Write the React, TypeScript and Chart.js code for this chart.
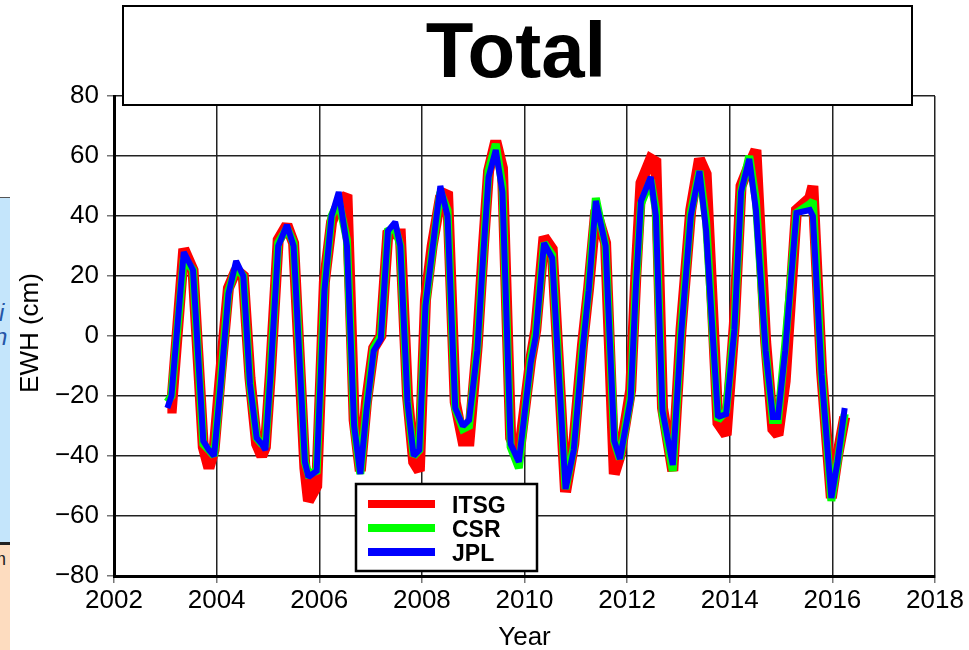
import React, { useEffect, useRef } from "react";
import { Chart, registerables } from "chart.js";

Chart.register(...registerables);

const years = [
  2003.04, 2003.12, 2003.36, 2003.54, 2003.74, 2003.85, 2003.95,
  2004.08, 2004.23, 2004.38, 2004.52, 2004.65, 2004.78, 2004.88, 2004.95,
  2005.05, 2005.2, 2005.37, 2005.5, 2005.72, 2005.79, 2005.95,
  2006.1, 2006.24, 2006.38, 2006.54, 2006.68, 2006.8, 2006.92,
  2007.06, 2007.2, 2007.34, 2007.48, 2007.58, 2007.72, 2007.84, 2007.95,
  2008.07, 2008.2, 2008.36, 2008.5, 2008.65, 2008.8, 2008.92,
  2009.08, 2009.2, 2009.3, 2009.44, 2009.57, 2009.73, 2009.89,
  2010.12, 2010.22, 2010.38, 2010.54, 2010.8, 2010.96,
  2011.13, 2011.25, 2011.39, 2011.58, 2011.75, 2011.86,
  2012.07, 2012.17, 2012.27, 2012.46, 2012.56, 2012.69, 2012.89,
  2013.05, 2013.24, 2013.41, 2013.54, 2013.77, 2013.93,
  2014.09, 2014.22, 2014.38, 2014.51, 2014.7, 2014.84, 2014.94,
  2015.08, 2015.3, 2015.56, 2015.62, 2015.79, 2015.98, 2016.1, 2016.24,
];

const itsgValues = [
  -24, -24, 29, 22, -37, -44, -38,
  -12, 16, 22, 20, -14, -36, -40, -37,
  -12, 32, 37, 31, -44, -55, -50,
  18, 38, 44, 47, -28, -45, -22,
  -4, 0, 35, 34, 34, -20, -42, -45,
  12, 30, 46, 48, -22, -35, -35,
  -3, 30, 55, 65, 56, -34, -40,
  -8, 2, 33, 29, -52, -36,
  -3, 16, 42, 31, -46, -40,
  -18, 20, 51, 59, 58, -24, -45,
  2, 42, 59, 54, -29, -33,
  4, 50, 57, 62, -2, -31, -33,
  -15, 42, 46, 50, -12, -54, -40, -27,
];

const csrValues = [
  -22, -20, 26, 22, -36, -38, -40,
  -15, 15, 23, 20, -16, -34, -36, -37,
  -12, 31, 36, 31, -42, -46, -45,
  16, 40, 45, 32, -30, -46, -24,
  -4, 0, 35, 36, 30, -22, -40, -38,
  10, 28, 48, 42, -24, -31, -30,
  -4, 28, 55, 64, 50, -37, -44,
  -8, 1, 31, 27, -51, -37,
  -4, 16, 46, 30, -35, -41,
  -20, 17, 44, 52, 42, -26, -45,
  1, 41, 55, 38, -28, -25,
  3, 48, 60, 45, -5, -28, -28,
  -3, 41, 44, 45, -12, -55, -42, -26,
];

const jplValues = [
  -24, -20, 28, 22, -35, -38, -40,
  -16, 14, 25, 20, -16, -34, -36, -38,
  -13, 30, 37, 30, -42, -47, -45,
  15, 40, 48, 30, -30, -46, -25,
  -5, -1, 35, 38, 30, -22, -40, -38,
  10, 28, 50, 40, -24, -30, -28,
  -5, 28, 53, 62, 48, -36, -42,
  -9, 0, 31, 26, -51, -38,
  -5, 15, 45, 30, -35, -41,
  -21, 16, 45, 53, 40, -25, -43,
  0, 40, 55, 35, -27, -26,
  2, 48, 59, 42, -5, -27, -27,
  -5, 41, 42, 40, -13, -54, -42, -24,
];

const seriesLabels = ["ITSG", "CSR", "JPL"];
const seriesColors = ["#ff0000", "#00ff00", "#0000ff"];
const seriesWidths = [11, 8, 6];

const xMin = 2002;
const xMax = 2018;
const xStep = 2;
const yMin = -80;
const yMax = 80;
const yStep = 20;

const chartTitle = "Total";
const xTitle = "Year";
const yTitle = "EWH (cm)";

const FONT = '"Liberation Sans", Arial, Helvetica, sans-serif';

const miterPlugin = {
  id: "miter",
  beforeDatasetsDraw(chart: any) {
    chart.ctx.miterLimit = 1.6;
  },
};

const overlayPlugin = {
  id: "overlay",
  afterDraw(chart: any) {
    const ctx: CanvasRenderingContext2D = chart.ctx;
    const ca = chart.chartArea;
    ctx.save();

    // axis titles
    ctx.fillStyle = "#000";
    ctx.font = `26px ${FONT}`;
    ctx.textAlign = "center";
    ctx.textBaseline = "alphabetic";
    ctx.fillText(xTitle, (ca.left + ca.right) / 2, 645);
    ctx.save();
    ctx.translate(38, 333);
    ctx.rotate(-Math.PI / 2);
    ctx.fillText(yTitle, 0, 0);
    ctx.restore();

    // title box
    ctx.fillStyle = "#fff";
    ctx.fillRect(123, 6, 789, 99);
    ctx.strokeStyle = "#000";
    ctx.lineWidth = 2;
    ctx.strokeRect(123, 6, 789, 99);
    ctx.fillStyle = "#000";
    ctx.font = `bold 78px ${FONT}`;
    ctx.textAlign = "center";
    ctx.fillText(chartTitle, 516, 77);

    // legend box
    ctx.fillStyle = "#fff";
    ctx.fillRect(356, 484, 181, 87);
    ctx.lineWidth = 2.5;
    ctx.strokeStyle = "#000";
    ctx.strokeRect(356, 484, 181, 87);
    ctx.font = `bold 23px ${FONT}`;
    ctx.textAlign = "left";
    chart.data.datasets.forEach((ds: any, i: number) => {
      const y = 504 + i * 24;
      ctx.strokeStyle = ds.borderColor;
      ctx.lineWidth = 8;
      ctx.lineCap = "butt";
      ctx.beginPath();
      ctx.moveTo(368, y);
      ctx.lineTo(435, y);
      ctx.stroke();
      ctx.fillStyle = "#000";
      ctx.fillText(ds.label, 452, y + 9);
    });
    ctx.restore();
  },
};

export default function App() {
  const ref = useRef<HTMLCanvasElement | null>(null);

  useEffect(() => {
    if (!ref.current) return;
    const values = [itsgValues, csrValues, jplValues];
    const chart = new Chart(ref.current, {
      type: "line",
      data: {
        datasets: seriesLabels.map((label, i) => ({
          label,
          data: years.map((x, j) => ({ x, y: values[i][j] })),
          borderColor: seriesColors[i],
          backgroundColor: seriesColors[i],
          borderWidth: seriesWidths[i],
          borderJoinStyle: "miter" as const,
          borderCapStyle: "butt" as const,
          pointRadius: 0,
          tension: 0,
          fill: false,
          order: 3 - i,
        })),
      },
      options: {
        animation: false,
        responsive: false,
        devicePixelRatio: 1,
        events: [],
        layout: { padding: { top: 96, right: 34, left: 0, bottom: 0 } },
        plugins: {
          legend: { display: false },
          title: { display: false },
          tooltip: { enabled: false },
        },
        scales: {
          x: {
            type: "linear",
            min: xMin,
            max: xMax,
            afterFit: (s: any) => {
              s.height = 74;
            },
            afterBuildTicks: (s: any) => {
              const t = [];
              for (let v = xMin; v <= xMax; v += xStep) t.push({ value: v });
              s.ticks = t;
            },
            ticks: {
              autoSkip: false,
              maxRotation: 0,
              padding: 2,
              color: "#000",
              font: { family: FONT, size: 26 },
              callback: (v: any) => String(v),
            },
            grid: {
              color: "#222",
              lineWidth: 1.5,
              drawTicks: true,
              tickLength: 7,
              tickColor: "#777",
              tickWidth: 1.5,
            },
            border: { color: "#000", width: 3 },
          },
          y: {
            type: "linear",
            min: yMin,
            max: yMax,
            afterFit: (s: any) => {
              s.width = 114;
            },
            afterBuildTicks: (s: any) => {
              const t = [];
              for (let v = yMin; v <= yMax; v += yStep) t.push({ value: v });
              s.ticks = t;
            },
            ticks: {
              autoSkip: false,
              padding: 8,
              color: "#000",
              font: { family: FONT, size: 26 },
              callback: (v: any) => (v < 0 ? "\u2212" + Math.abs(v) : String(v)),
            },
            grid: {
              color: "#222",
              lineWidth: 1.5,
              drawTicks: true,
              tickLength: 7,
              tickColor: "#777",
              tickWidth: 1.5,
            },
            border: { color: "#000", width: 3 },
          },
        },
      },
      plugins: [miterPlugin, overlayPlugin],
    });
    return () => chart.destroy();
  }, []);

  return (
    <div style={{ position: "absolute", left: 0, top: 0, width: 969, height: 650, background: "#fff", overflow: "hidden" }}>
      <canvas ref={ref} width={969} height={650} style={{ position: "absolute", left: 0, top: 0 }} />
      <div style={{ position: "absolute", left: 0, top: 197, width: 10, height: 346, background: "#c4e5fb", borderTop: "1px solid #555", overflow: "hidden" }}>
        <span style={{ position: "absolute", left: -1, top: 103, fontFamily: FONT, fontStyle: "italic", fontSize: 24, color: "#2456a8", lineHeight: 1 }}>i</span>
        <span style={{ position: "absolute", left: -6, top: 127, fontFamily: FONT, fontStyle: "italic", fontSize: 24, color: "#2456a8", lineHeight: 1 }}>n</span>
      </div>
      <div style={{ position: "absolute", left: 0, top: 542, width: 10, height: 3, background: "#222" }} />
      <div style={{ position: "absolute", left: 0, top: 545, width: 10, height: 105, background: "#fddcbf", overflow: "hidden" }}>
        <span style={{ position: "absolute", left: -9, top: 5, fontFamily: FONT, fontSize: 18, color: "#222", lineHeight: 1 }}>m</span>
      </div>
    </div>
  );
}
